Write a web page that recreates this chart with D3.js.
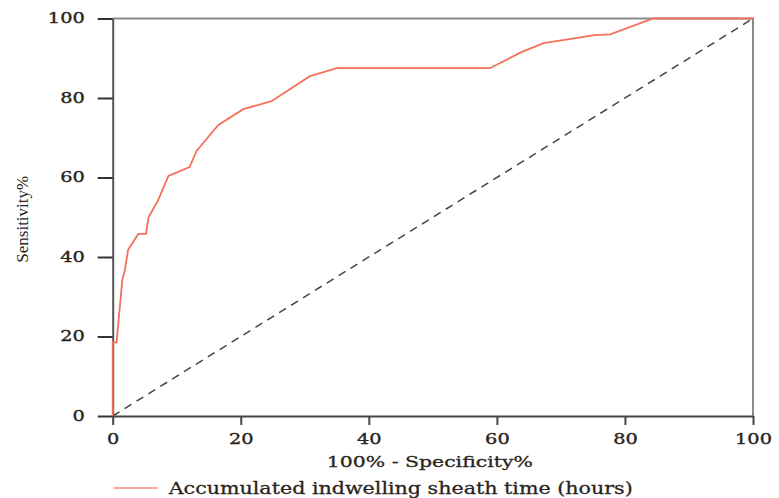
<!DOCTYPE html>
<html>
<head>
<meta charset="utf-8">
<script src="https://cdn.jsdelivr.net/npm/d3@7"></script>
<style>
  body { margin: 0; background: #fff; }
  .tick text { font-family: "DejaVu Serif", serif; font-size: 14px; fill: #2a2420; stroke: #2a2420; stroke-width: 0.35px; }
</style>
</head>
<body>
<div id="chart"></div>
<script>
// ROC curve
var fpr = [0, 0, 0.6, 1.5, 1.9, 2.4, 4.0, 5.2, 5.6, 7.1, 8.7, 12.0, 13.1, 16.5, 20.4, 24.8, 30.8, 35.0, 58.9, 63.9, 67.3, 75.3, 77.7, 84.4, 100];
var tpr = [0, 18.5, 18.5, 34.2, 36.7, 41.8, 45.8, 45.8, 50.0, 54.3, 60.4, 62.6, 66.7, 73.2, 77.2, 79.2, 85.5, 87.5, 87.5, 91.6, 93.8, 95.8, 96.0, 100, 100];
var ticks = [0, 20, 40, 60, 80, 100];
var seriesName = "Accumulated indwelling sheath time (hours)";

var margin = {top: 18.5, right: 26, bottom: 82, left: 112.7};
var width = 779 - margin.left - margin.right;
var height = 498 - margin.top - margin.bottom;
var stretch = 1.38; // the original type is set wide

var svg = d3.select("#chart").append("svg")
    .attr("width", 779)
    .attr("height", 498)
  .append("g")
    .attr("transform", "translate(" + margin.left + "," + margin.top + ")");

var x = d3.scaleLinear().domain([0, 100]).range([0, width]);
var y = d3.scaleLinear().domain([0, 100]).range([height, 0]);

// box top + right
svg.append("path")
    .attr("d", "M0,0H" + width + "V" + height)
    .attr("fill", "none")
    .attr("stroke", "#8a8a8a")
    .attr("stroke-width", 2);

var xAxis = svg.append("g")
    .attr("transform", "translate(0," + height + ")")
    .call(d3.axisBottom(x).tickValues(ticks).tickSize(9).tickPadding(9).tickSizeOuter(0));
xAxis.select(".domain").attr("stroke", "#444").attr("stroke-width", 2);
xAxis.selectAll(".tick line").attr("stroke", "#444").attr("stroke-width", 2);
xAxis.selectAll(".tick text").attr("transform", "scale(" + stretch + ",1)");

var yAxis = svg.append("g")
    .call(d3.axisLeft(y).tickValues(ticks).tickSize(15).tickPadding(13).tickSizeOuter(0));
yAxis.select(".domain").attr("stroke", "#555").attr("stroke-width", 2);
yAxis.selectAll(".tick line").attr("stroke", "#333").attr("stroke-width", 2);
yAxis.selectAll(".tick text")
    .attr("x", -28 / stretch)
    .attr("transform", "scale(" + stretch + ",1)");

// reference diagonal
svg.append("line")
    .attr("x1", x(0)).attr("y1", y(0))
    .attr("x2", x(100)).attr("y2", y(100))
    .attr("stroke", "#444")
    .attr("stroke-width", 1.5)
    .attr("stroke-dasharray", "8,6");

var line = d3.line()
    .x(function(d, i) { return x(fpr[i]); })
    .y(function(d) { return y(d); });

svg.append("path")
    .datum(tpr)
    .attr("d", line)
    .attr("fill", "none")
    .attr("stroke", "#f4705a")
    .attr("stroke-width", 1.8);

svg.append("text")
    .attr("x", width / 2 - 3)
    .attr("y", height + 51)
    .attr("text-anchor", "middle")
    .attr("textLength", 206)
    .attr("lengthAdjust", "spacingAndGlyphs")
    .style("font-family", "DejaVu Serif, serif")
    .style("font-size", "15px")
    .style("fill", "#2a2420")
    .style("stroke", "#2a2420")
    .style("stroke-width", "0.3px")
    .text("100% - Specificity%");

svg.append("text")
    .attr("transform", "rotate(-90)")
    .attr("x", -(height / 2) - 2)
    .attr("y", -margin.left + 28)
    .attr("text-anchor", "middle")
    .style("font-family", "Liberation Serif, serif")
    .style("font-size", "17px")
    .style("fill", "#2a2420")
    .text("Sensitivity%");

// legend
var lg = svg.append("g").attr("transform", "translate(0," + (height + 72) + ")");
lg.append("line")
    .attr("x1", 1).attr("x2", 45)
    .attr("stroke", "#f7907e")
    .attr("stroke-width", 1.5);
lg.append("text")
    .attr("x", 56)
    .attr("y", 6)
    .attr("textLength", 464)
    .attr("lengthAdjust", "spacingAndGlyphs")
    .style("font-family", "DejaVu Serif, serif")
    .style("font-size", "17px")
    .style("fill", "#2a2420")
    .style("stroke", "#2a2420")
    .style("stroke-width", "0.3px")
    .text(seriesName);
</script>
</body>
</html>
